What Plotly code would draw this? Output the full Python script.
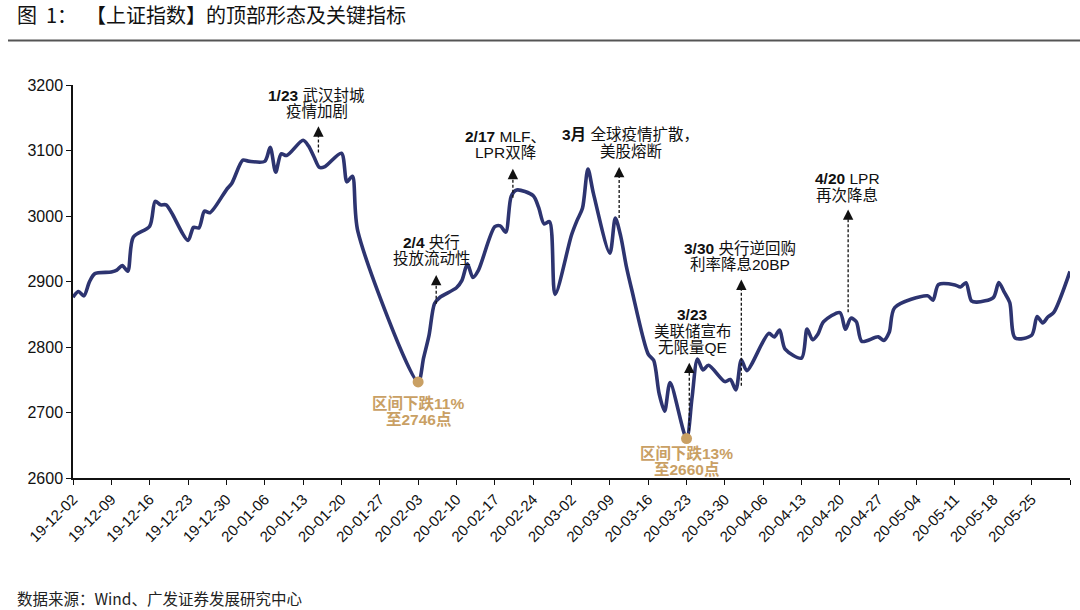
import pandas as pd
import plotly.graph_objects as go

# 上证指数 daily close, trading days only (CNY / Qingming / May Day closed)
dates = [
    "2019-12-02", "2019-12-03", "2019-12-04", "2019-12-05", "2019-12-06",
    "2019-12-09", "2019-12-10", "2019-12-11", "2019-12-12", "2019-12-13",
    "2019-12-16", "2019-12-17", "2019-12-18", "2019-12-19", "2019-12-20",
    "2019-12-23", "2019-12-24", "2019-12-25", "2019-12-26", "2019-12-27",
    "2019-12-30", "2019-12-31", "2020-01-02", "2020-01-03",
    "2020-01-06", "2020-01-07", "2020-01-08", "2020-01-09", "2020-01-10",
    "2020-01-13", "2020-01-14", "2020-01-15", "2020-01-16", "2020-01-17",
    "2020-01-20", "2020-01-21", "2020-01-22", "2020-01-23",
    "2020-02-03", "2020-02-04", "2020-02-05", "2020-02-06", "2020-02-07",
    "2020-02-10", "2020-02-11", "2020-02-12", "2020-02-13", "2020-02-14",
    "2020-02-17", "2020-02-18", "2020-02-19", "2020-02-20", "2020-02-21",
    "2020-02-24", "2020-02-25", "2020-02-26", "2020-02-27", "2020-02-28",
    "2020-03-02", "2020-03-03", "2020-03-04", "2020-03-05", "2020-03-06",
    "2020-03-09", "2020-03-10", "2020-03-11", "2020-03-12", "2020-03-13",
    "2020-03-16", "2020-03-17", "2020-03-18", "2020-03-19", "2020-03-20",
    "2020-03-23", "2020-03-24", "2020-03-25", "2020-03-26", "2020-03-27",
    "2020-03-30", "2020-03-31", "2020-04-01", "2020-04-02", "2020-04-03",
    "2020-04-07", "2020-04-08", "2020-04-09", "2020-04-10",
    "2020-04-13", "2020-04-14", "2020-04-15", "2020-04-16", "2020-04-17",
    "2020-04-20", "2020-04-21", "2020-04-22", "2020-04-23", "2020-04-24",
    "2020-04-27", "2020-04-28", "2020-04-29", "2020-04-30",
    "2020-05-06", "2020-05-07", "2020-05-08",
    "2020-05-11", "2020-05-12", "2020-05-13", "2020-05-14", "2020-05-15",
    "2020-05-18", "2020-05-19", "2020-05-20", "2020-05-21", "2020-05-22",
    "2020-05-25", "2020-05-26", "2020-05-27", "2020-05-28", "2020-05-29",
    "2020-06-01",
]
close = [
    2875.81, 2884.70, 2878.12, 2899.47, 2912.01,
    2914.48, 2917.32, 2924.42, 2915.70, 2967.68,
    2984.39, 3022.42, 3017.04, 3017.07, 3004.94,
    2962.75, 2982.68, 2981.88, 3007.35, 3005.04,
    3040.02, 3050.12, 3085.20, 3083.79,
    3083.41, 3104.80, 3066.89, 3094.88, 3092.29,
    3115.57, 3106.82, 3090.04, 3074.08, 3075.50,
    3095.79, 3052.14, 3060.75, 2976.53,
    2746.61, 2783.29, 2818.09, 2866.51, 2875.96,
    2890.49, 2901.67, 2926.90, 2906.07, 2917.01,
    2983.62, 2984.97, 2975.40, 3030.15, 3039.67,
    3031.23, 3013.05, 2987.93, 2991.33, 2880.30,
    2970.93, 2992.90, 3011.67, 3071.68, 3034.51,
    2943.29, 2996.76, 2968.52, 2923.49, 2887.43,
    2789.25, 2779.64, 2728.76, 2702.13, 2745.62,
    2660.17, 2722.44, 2781.59, 2764.91, 2772.20,
    2747.21, 2750.30, 2734.52, 2780.64, 2763.99,
    2820.76, 2815.37, 2825.90, 2796.63,
    2783.05, 2827.28, 2811.17, 2819.94, 2838.49,
    2852.55, 2827.01, 2843.98, 2838.50, 2808.53,
    2815.49, 2810.02, 2822.44, 2860.08,
    2878.14, 2871.52, 2895.34,
    2894.80, 2891.56, 2898.05, 2870.34, 2868.46,
    2875.42, 2898.58, 2883.74, 2867.92, 2813.77,
    2817.97, 2846.55, 2836.80, 2846.22, 2852.35,
    2915.43,
]
tick_labels = [
    "19-12-02", "19-12-09", "19-12-16", "19-12-23", "19-12-30",
    "20-01-06", "20-01-13", "20-01-20", "20-01-27", "20-02-03",
    "20-02-10", "20-02-17", "20-02-24", "20-03-02", "20-03-09",
    "20-03-16", "20-03-23", "20-03-30", "20-04-06", "20-04-13",
    "20-04-20", "20-04-27", "20-05-04", "20-05-11", "20-05-18",
    "20-05-25",
]
low_dates = ["2020-02-03", "2020-03-23"]
low_notes = [["区间下跌11%", "至2746点"], ["区间下跌13%", "至2660点"]]
event_notes = [
    ["<b>1/23</b> 武汉封城", "疫情加剧"],
    ["<b>2/4</b> 央行", "投放流动性"],
    ["<b>2/17</b> MLF、", "LPR双降"],
    ["<b>3月</b> 全球疫情扩散，", "美股熔断"],
    ["<b>3/30</b> 央行逆回购", "利率降息20BP"],
    ["<b>3/23</b>", "美联储宣布", "无限量QE"],
    ["<b>4/20</b> LPR", "再次降息"],
]

FONT = "Liberation Sans, Arial, Noto Sans CJK SC"
LINE = "#2d3470"
GOLD = "#c9a064"
start = pd.Timestamp("2019-12-02")


def at(days):
    return start + pd.Timedelta(days=days)


fig = go.Figure()
fig.add_trace(go.Scatter(x=pd.to_datetime(dates), y=close, mode="lines",
                         line=dict(color=LINE, width=3.6, shape="spline", smoothing=0.8),
                         hoverinfo="skip", showlegend=False))

lookup = dict(zip(dates, close))
fig.add_trace(go.Scatter(x=pd.to_datetime(low_dates), y=[lookup[d] for d in low_dates],
                         mode="markers", marker=dict(color=GOLD, size=11),
                         hoverinfo="skip", showlegend=False))

# (text x in days, first line y, arrow x in days, arrow bottom, arrow top)
event_pos = [
    (44.5, 3184, 44.8, 3097, 3137),
    (65.5, 2960, 66.3, 2866, 2910),
    (78.9, 3122, 80.3, 3028, 3072),
    (101.8, 3124, 99.7, 2997, 3075),
    (121.8, 2951, 122.0, 2741, 2903),
    (113.1, 2849, 112.5, 2672, 2776),
    (141.3, 3057, 141.5, 2853, 3010),
]
for lines, (tx, ty, axd, y0, y1) in zip(event_notes, event_pos):
    for i, t in enumerate(lines):
        fig.add_annotation(x=at(tx), y=ty, text=t, showarrow=False, yshift=-16.5 * i,
                           xanchor="center", yanchor="middle",
                           font=dict(family=FONT, size=15.5, color="#111111"))
    fig.add_shape(type="line", x0=at(axd), x1=at(axd), y0=y0, y1=y1 - 8,
                  line=dict(color="#111111", width=1.3, dash="3px,2px"))
    fig.add_annotation(x=at(axd), y=y1, ax=0, ay=9, text="", showarrow=True,
                       arrowhead=2, arrowsize=1.6, arrowwidth=1.3, arrowcolor="#111111",
                       standoff=0)

# first-line y of the gold notes
low_text_y = [2713.5, 2636.7]
for lines, d, ty in zip(low_notes, low_dates, low_text_y):
    for i, t in enumerate(lines):
        fig.add_annotation(x=pd.Timestamp(d), y=ty, text="<b>%s</b>" % t,
                           showarrow=False, yshift=-15.5 * i,
                           xanchor="center", yanchor="middle",
                           font=dict(family=FONT, size=15.5, color=GOLD))

# title, rule and source
fig.add_annotation(xref="paper", yref="paper", x=(15 - 73) / 997, y=(478 - 14) / 393,
                   text="图\u00a0\u00a01：\u00a0\u00a0【上证指数】的顶部形态及关键指标", showarrow=False,
                   xanchor="left", yanchor="middle",
                   font=dict(family="Noto Sans CJK SC", size=20, color="#111111"))
fig.add_shape(type="line", xref="paper", yref="paper",
              x0=(8 - 73) / 997, x1=(1080 - 73) / 997,
              y0=(478 - 40.5) / 393, y1=(478 - 40.5) / 393,
              line=dict(color="#555555", width=2))
fig.add_annotation(xref="paper", yref="paper", x=(15 - 73) / 997, y=(478 - 598) / 393,
                   text="数据来源：Wind、广发证券发展研究中心", showarrow=False,
                   xanchor="left", yanchor="middle",
                   font=dict(family="Noto Sans CJK SC", size=15.5, color="#222222"))

fig.update_layout(
    width=1080, height=610,
    margin=dict(l=73, r=10, t=85, b=132),
    paper_bgcolor="white", plot_bgcolor="white",
    font=dict(family=FONT, color="#111111"),
    hovermode=False,
)
fig.update_xaxes(type="date", range=["2019-12-02", "2020-06-01"],
                 tickvals=["20" + t for t in tick_labels] + ["2020-06-01"],
                 ticktext=tick_labels + [""],
                 tickangle=-45, ticks="outside", ticklen=5, tickcolor="#111111",
                 showline=True, linecolor="#111111", linewidth=1.5,
                 showgrid=False, zeroline=False,
                 tickfont=dict(family=FONT, size=15, color="#111111"))
fig.update_yaxes(range=[2600, 3200], dtick=100, ticks="outside", ticklen=5,
                 tickcolor="#111111", showline=True, linecolor="#111111", linewidth=1.5,
                 showgrid=False, zeroline=False,
                 tickfont=dict(family=FONT, size=16, color="#111111"))

fig.write_html("out.html", config={"displayModeBar": False},
               post_script="document.body.style.margin='0';")
